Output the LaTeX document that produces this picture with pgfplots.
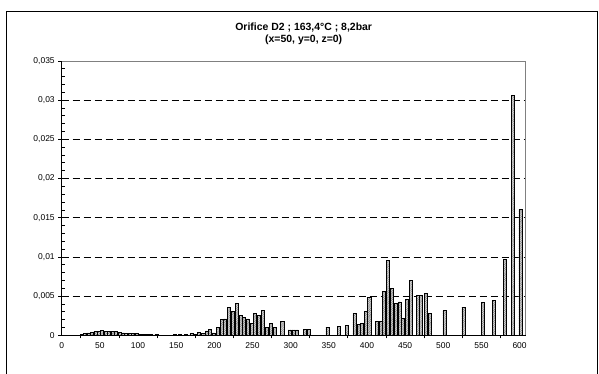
\documentclass[border=0pt]{standalone}
\usepackage{fontspec}
\setmainfont{Liberation Sans}
\usepackage{pgfplots}
\pgfplotsset{compat=1.18}
\usetikzlibrary{patterns.meta}

\pgfplotstableread{
x y
26 0.0001
30.5 0.0002
35 0.0003
39.5 0.0004
44 0.0005
48.5 0.0005
53 0.0006
57.5 0.0005
62 0.0005
66.5 0.0005
71 0.0005
75.5 0.0004
80 0.0003
84.5 0.0002
89 0.0002
93.5 0.0002
98 0.0002
102.5 0.0001
107 0.0001
111.5 0.0001
116 0.0001
120.5 0.00005
125 0.0001
148 0.0001
155 0.00015
163 0.0001
170 0.0002
175 0.0001
180 0.0004
185.5 0.0002
190 0.00055
194.5 0.00075
199 0.0003
204.5 0.001
209.5 0.002
214 0.0021
219.5 0.0036
224 0.0031
229.5 0.0041
234.5 0.0025
239 0.0023
244 0.0021
249 0.0015
253.5 0.0028
258.5 0.00255
263.5 0.0032
268.5 0.001
274 0.0015
279 0.001
289 0.0018
299 0.00068
303.5 0.00068
308.5 0.0007
319 0.0008
323.5 0.0008
348 0.001
363.5 0.00115
373.5 0.00127
383.5 0.00276
389 0.0014
393.5 0.00153
398.5 0.00306
403 0.00485
413 0.0018
418 0.0018
422.5 0.00556
427.5 0.0096
432.5 0.00595
437.5 0.0041
442.5 0.00425
447 0.00217
452 0.0046
457.5 0.00705
466.5 0.00505
471 0.00505
477 0.00535
482 0.00276
501.5 0.00314
526.5 0.0036
551.5 0.0042
566 0.0045
581 0.0097
591 0.0306
601 0.0161
}\orifice

\begin{document}
\begin{tikzpicture}
% page = 599 x 374 bp, axis box bottom-left at (0,0)
\useasboundingbox (-61.7bp,-38.7bp) rectangle (537.3bp,335.3bp);
\draw[line width=0.8bp] (-55.7bp,-45bp) -- (-55.7bp,324.3bp) -- (535.8bp,324.3bp) -- (535.8bp,-45bp);
\node[font=\bfseries\fontsize{10.5}{13}\selectfont, align=center] at (242bp,301.5bp)
  {Orifice D2 ; 163,4°C ; 8,2bar\\(x=50, y=0, z=0)};
\begin{axis}[
  at={(0,0)}, anchor=south west,
  scale only axis, width=464bp, height=274.3bp,
  xmin=0, xmax=608, ymin=0, ymax=0.035,
  axis x line*=bottom, axis y line*=left,
  axis line style={line width=1.1bp, -},
  xtick={0,50,...,600},
  minor xtick={25,75,...,575},
  ytick={0,0.005,...,0.0351},
  minor ytick={0.001,0.002,...,0.0341},
  tick align=outside,
  major tick length=3.5bp, minor tick length=3bp,
  x tick style={line width=0.8bp, black},
  y tick style={line width=0.8bp, black},
  major x tick style={draw=none},
  minor y tick style={xshift=3bp},
  ymajorgrids,
  major grid style={black, line width=0.6bp, dash pattern=on 7bp off 4bp},
  tick label style={font=\fontsize{8.5}{10}\selectfont},
  /pgf/number format/assume math mode=true,
  yticklabel style={/pgf/number format/.cd, use comma, fixed, precision=3},
  xticklabel style={/pgf/number format/.cd, fixed},
  scaled y ticks=false,
  ytick pos=left, xtick pos=bottom,
  clip=false,
]
\draw[gray, line width=0.8bp] (axis cs:0,0.035) -- (axis cs:608,0.035) -- (axis cs:608,0);
\addplot[ybar, bar width=4, draw=black, line width=0.5bp, fill=gray!25,
  postaction={pattern={Lines[distance=1.3bp, angle=45, line width=0.45bp]}, pattern color=gray!90!black}]
  table[x=x, y=y] {\orifice};
\end{axis}
\end{tikzpicture}
\end{document}
